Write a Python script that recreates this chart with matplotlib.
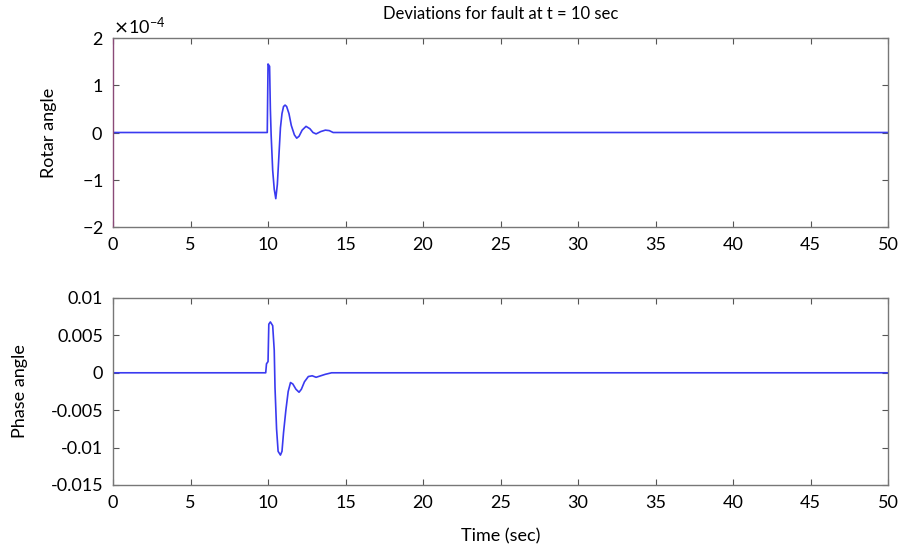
import matplotlib
matplotlib.use("Agg")
import matplotlib.pyplot as plt
from matplotlib.ticker import ScalarFormatter

plt.rcParams['font.family'] = ['Lato', 'DejaVu Sans']
plt.rcParams['axes.unicode_minus'] = False

# Rotor angle deviation (rad)
t_rotor = [0, 9.95, 10.0, 10.1, 10.15, 10.2, 10.3, 10.4, 10.5, 10.6, 10.7, 10.8, 10.9,
           11.0, 11.1, 11.2, 11.35, 11.5, 11.7, 11.85, 12.0, 12.2, 12.45, 12.7, 12.9,
           13.1, 13.4, 13.7, 13.95, 14.2, 50]
rotor = [0, 0, 1.45e-4, 1.40e-4, 0.5e-4, -0.05e-4, -0.8e-4, -1.2e-4, -1.4e-4, -1.1e-4,
         -0.5e-4, 0.1e-4, 0.4e-4, 0.55e-4, 0.58e-4, 0.55e-4, 0.4e-4, 0.15e-4, -0.05e-4,
         -0.12e-4, -0.08e-4, 0.05e-4, 0.13e-4, 0.08e-4, 0.0, -0.03e-4, 0.02e-4, 0.05e-4,
         0.04e-4, 0, 0]

# Phase angle deviation
t_phase = [0, 9.85, 9.9, 10.0, 10.05, 10.15, 10.3, 10.4, 10.45, 10.55, 10.65, 10.8,
           10.9, 11.0, 11.15, 11.3, 11.45, 11.6, 11.8, 12.0, 12.15, 12.35, 12.6, 12.85,
           13.1, 13.4, 13.7, 14.1, 50]
phase = [0, 0, 0.0012, 0.0015, 0.0065, 0.0068, 0.0063, 0.003, -0.002, -0.0075, -0.0105,
         -0.011, -0.0105, -0.008, -0.005, -0.0025, -0.0013, -0.0015, -0.0022, -0.0026,
         -0.0022, -0.0012, -0.0005, -0.0004, -0.0006, -0.0004, -0.0002, 0, 0]

fig = plt.figure(figsize=(9, 5.49), dpi=100)
ax1 = fig.add_axes([0.1256, 0.5865, 0.8611, 0.3443])
ax2 = fig.add_axes([0.1256, 0.1166, 0.8611, 0.3406])

line_color = '#3a3af0'
ax1.plot(t_rotor, rotor, color=line_color, lw=1.2)
ax2.plot(t_phase, phase, color=line_color, lw=1.2)

for ax in (ax1, ax2):
    ax.set_xlim(0, 50)
    ax.set_xticks(range(0, 51, 5))
    ax.tick_params(direction='in', top=True, right=True, labelsize=13,
                   color='#555555', length=4, pad=7)
    for s in ax.spines.values():
        s.set_color('#777777')
        s.set_linewidth(1.0)

ax1.spines['left'].set_color('#8a4a78')

ax1.set_ylim(-2e-4, 2e-4)
ax1.set_yticks([-2e-4, -1e-4, 0, 1e-4, 2e-4])
fmt = ScalarFormatter(useMathText=True)
fmt.set_powerlimits((0, 0))
ax1.yaxis.set_major_formatter(fmt)
ax1.yaxis.get_offset_text().set_fontsize(13)
ax1.set_ylabel('Rotar angle', fontsize=13, labelpad=18)
ax1.set_title('Deviations for fault at t = 10 sec', fontsize=12, pad=14)

ax2.set_ylim(-0.015, 0.01)
ax2.set_yticks([-0.015, -0.01, -0.005, 0, 0.005, 0.01])
ax2.set_yticklabels(['-0.015', '-0.01', '-0.005', '0', '0.005', '0.01'])
ax2.set_ylabel('Phase angle', fontsize=13, labelpad=16)
ax2.set_xlabel('Time (sec)', fontsize=13, labelpad=13)

fig.savefig('out.png', dpi=100)
